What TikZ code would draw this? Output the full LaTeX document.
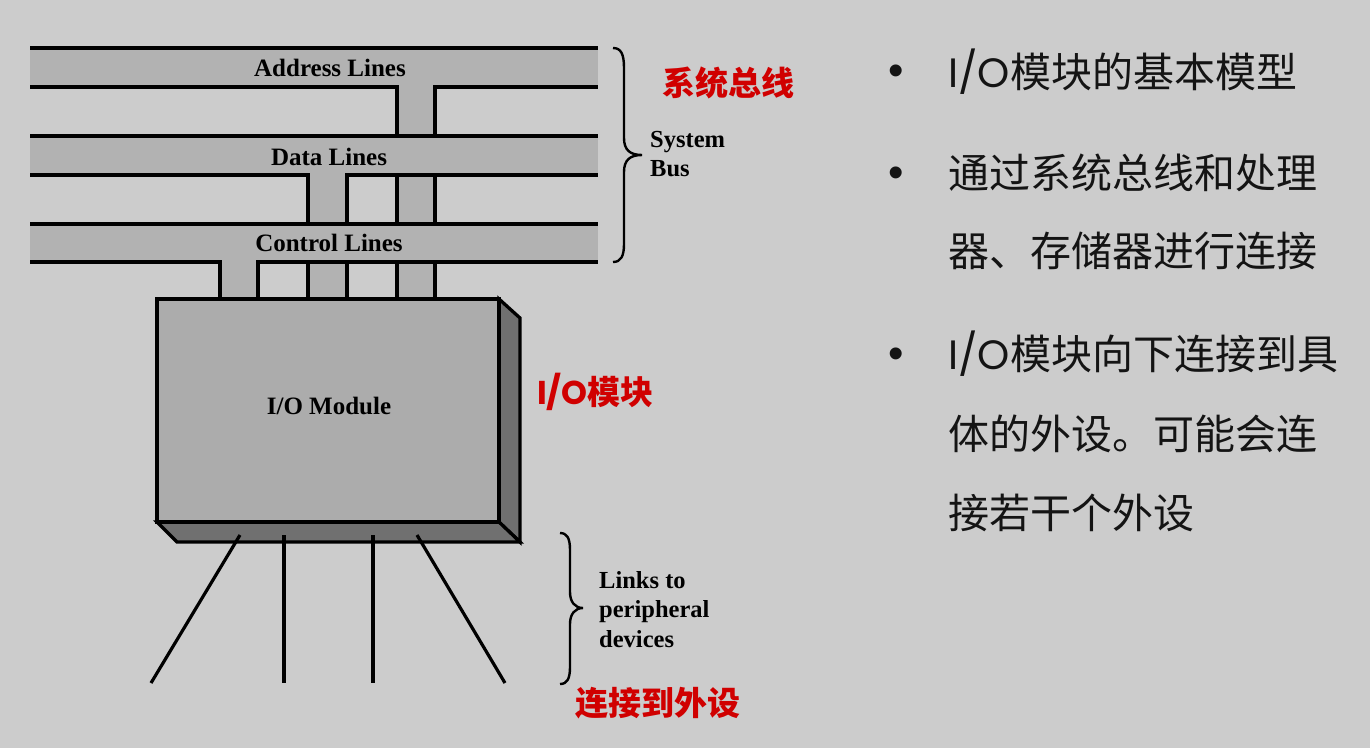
\documentclass[tikz,border=0pt]{standalone}
\usepackage{fontspec}
\setmainfont{Liberation Serif}
\newfontfamily\cjk{Noto Sans CJK SC}
\newfontfamily\geo{Poppins}
\newfontfamily\bul{Liberation Sans}
\definecolor{bg}{RGB}{204,204,204}
\definecolor{busfill}{RGB}{178,178,178}
\definecolor{front}{RGB}{172,172,172}
\definecolor{shade}{RGB}{112,112,112}
\definecolor{redlabel}{RGB}{208,0,0}
\definecolor{ink}{RGB}{20,20,20}
\begin{document}
\begin{tikzpicture}[x=1pt,y=-1pt,
  outline/.style={line width=3.3pt, line join=miter},
  buslabel/.style={font=\fontsize{25}{30}\selectfont\bfseries, anchor=base, inner sep=0pt},
  sidelabel/.style={font=\fontsize{24.5}{29}\selectfont\bfseries, anchor=base west, inner sep=0pt},
  brace/.style={line width=2.4pt},
  note/.style={font=\fontsize{33}{40}\selectfont\cjk\bfseries, text=redlabel, anchor=base west, inner sep=0pt},
  point/.style={font=\fontsize{41}{50}\selectfont\cjk, text=ink, anchor=base west, inner sep=0pt},
  dot/.style={font=\fontsize{44}{48}\selectfont\bul, text=ink, anchor=base, inner sep=0pt}]

% canvas
\fill[bg] (0,0) rectangle (1370,748);
\useasboundingbox (0,0) rectangle (1370,748);

% bus bands and the stubs that drop to the module
\fill[busfill] (30,48) rectangle (598,87);
\fill[busfill] (30,136) rectangle (598,175);
\fill[busfill] (30,224) rectangle (598,262);
\fill[busfill] (397,87) rectangle (435,136);
\fill[busfill] (397,175) rectangle (435,224);
\fill[busfill] (397,262) rectangle (435,299);
\fill[busfill] (308,175) rectangle (347,224);
\fill[busfill] (308,262) rectangle (347,299);
\fill[busfill] (220,262) rectangle (258,299);

% bus outlines
\draw[outline] (30,48) -- (598,48);
\draw[outline] (30,87) -- (397,87) -- (397,136);
\draw[outline] (435,136) -- (435,87) -- (598,87);
\draw[outline] (30,136) -- (598,136);
\draw[outline] (30,175) -- (308,175) -- (308,224);
\draw[outline] (347,224) -- (347,175) -- (598,175);
\draw[outline] (397,175) -- (397,224);
\draw[outline] (435,175) -- (435,224);
\draw[outline] (30,224) -- (598,224);
\draw[outline] (30,262) -- (220,262) -- (220,299);
\draw[outline] (258,299) -- (258,262) -- (598,262);
\draw[outline] (308,262) -- (308,299);
\draw[outline] (347,262) -- (347,299);
\draw[outline] (397,262) -- (397,299);
\draw[outline] (435,262) -- (435,299);

\node[buslabel] (addr) at (330,76) {Address Lines};
\node[buslabel] (data) at (329,165) {Data Lines};
\node[buslabel] (ctrl) at (329,251) {Control Lines};

% the I/O module block
\filldraw[outline, fill=shade] (499,299) -- (520,318) -- (520,542) -- (499,522) -- cycle;
\filldraw[outline, fill=shade] (157,522) -- (177,542) -- (520,542) -- (499,522) -- cycle;
\filldraw[outline, fill=front] (157,299) rectangle (499,522);
\node[buslabel] (mod) at (329,414) {I/O Module};

% peripheral links
\coordinate (l1a) at (240,535); \coordinate (l1b) at (151,683);
\coordinate (l2a) at (284,535); \coordinate (l2b) at (284,683);
\coordinate (l3a) at (373,535); \coordinate (l3b) at (373,683);
\coordinate (l4a) at (417,535); \coordinate (l4b) at (505,683);
\draw[line width=3.2pt] (l1a) -- (l1b);
\draw[line width=3.2pt] (l2a) -- (l2b);
\draw[line width=3.2pt] (l3a) -- (l3b);
\draw[line width=3.2pt] (l4a) -- (l4b);

% braces
\draw[brace] (613,48) .. controls (621,48) and (624,54) .. (624,68) -- (624,138)
  .. controls (624,150) and (630,155) .. (642,155)
  .. controls (630,155) and (624,160) .. (624,172) -- (624,244)
  .. controls (624,256) and (621,262) .. (613,262);
\draw[brace] (560,533) .. controls (567,533) and (570,538) .. (570,550) -- (570,592)
  .. controls (570,602) and (575,608) .. (583,608)
  .. controls (575,608) and (570,614) .. (570,624) -- (570,667)
  .. controls (570,679) and (567,684) .. (560,684);

\node[sidelabel] (sys1) at (650,147) {System};
\node[sidelabel] (sys2) at (650,176) {Bus};
\node[sidelabel] (lnk1) at (599,588) {Links to};
\node[sidelabel] (lnk2) at (599,617) {peripheral};
\node[sidelabel] (lnk3) at (599,647) {devices};

% red annotations
\node[note] (n1) at (662,95.5) {系统总线};
\node[note] (n2) at (537,404.5) {{\geo\bfseries I/O}模块};
\node[note] (n3) at (575,715.5) {连接到外设};

% bullet points
\node[dot] (b1) at (896,85) {•};
\node[dot] (b2) at (896,187) {•};
\node[dot] (b3) at (896,368) {•};
\node[point] (p1) at (948,87) {{\geo I/O}模块的基本模型};
\node[point] (p2) at (948,188) {通过系统总线和处理};
\node[point] (p3) at (948,266) {器、存储器进行连接};
\node[point] (p4) at (948,369) {{\geo I/O}模块向下连接到具};
\node[point] (p5) at (948,449) {体的外设。可能会连};
\node[point] (p6) at (948,528) {接若干个外设};
\end{tikzpicture}
\end{document}
